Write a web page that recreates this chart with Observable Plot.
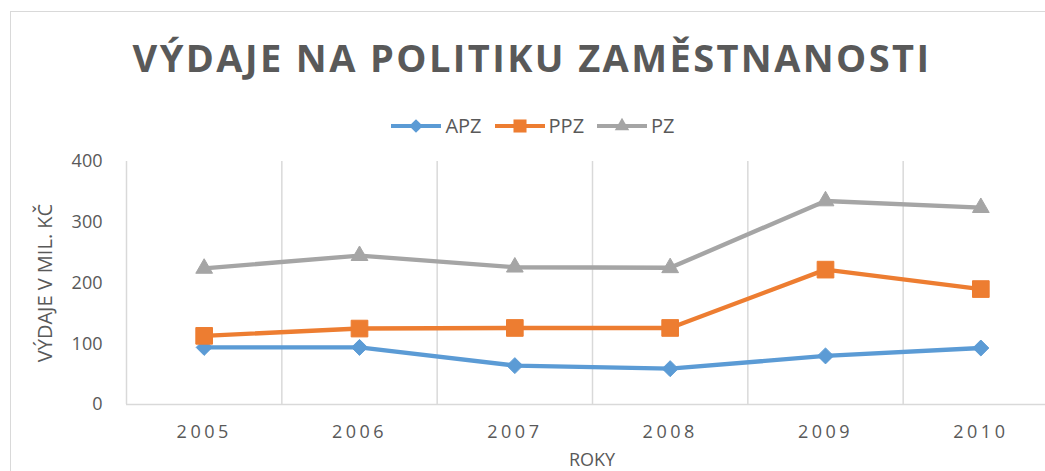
<!DOCTYPE html>
<html>
<head>
<meta charset="utf-8">
<script src="https://cdn.jsdelivr.net/npm/d3@7"></script>
<script src="https://cdn.jsdelivr.net/npm/@observablehq/plot@0.6"></script>
<style>
  html, body { margin: 0; padding: 0; background: #fff; overflow: hidden; }
  #wrap { position: relative; width: 1045px; height: 471px; overflow: hidden; font-family: "Open Sans", sans-serif; color: #595959; }
  #border { position: absolute; left: 10px; top: 11px; width: 1100px; height: 600px; border: 1px solid #d9d9d9; box-sizing: border-box; }
  #title { position: absolute; left: 0; top: 38px; width: 1064px; text-align: center; font-size: 38px; line-height: 1; font-weight: 700; letter-spacing: 2.4px; white-space: nowrap; }
  #legend { position: absolute; left: 0; top: 116px; width: 1066px; display: flex; justify-content: center; gap: 13px; font-size: 20px; line-height: 20px; }
  #legend .item { display: flex; align-items: center; gap: 4px; }
  #ylabel { position: absolute; left: 45px; top: 283px; transform: translate(-50%, -50%) rotate(-90deg); font-size: 20px; line-height: 1; white-space: nowrap; }
  #xlabel { position: absolute; left: 592px; top: 450px; transform: translateX(-50%); font-size: 18px; line-height: 18px; white-space: nowrap; }
  #chart { position: absolute; left: 0; top: 0; }
  #chart g[aria-label^="x-axis"] text { letter-spacing: 3.5px; }
</style>
</head>
<body>
<div id="wrap">
  <div id="border"></div>
  <div id="chart"></div>
  <div id="title"></div>
  <div id="legend"></div>
  <div id="ylabel"></div>
  <div id="xlabel"></div>
</div>
<script>
// ---- data ----
const titleText = "VÝDAJE NA POLITIKU ZAMĚSTNANOSTI";
const yLabelText = "VÝDAJE V MIL. KČ";
const xLabelText = "ROKY";
const years = [2005, 2006, 2007, 2008, 2009, 2010];
const seriesNames = ["APZ", "PPZ", "PZ"];
const apz = [94, 94, 64, 59, 80, 93];
const ppz = [113, 125, 126, 126, 222, 190];
const pz = [224, 245, 226, 225, 335, 324];
const yTicks = [0, 100, 200, 300, 400];
const colors = ["#5B9BD5", "#ED7D31", "#A5A5A5"];
const symbols = ["diamond2", "square", "triangle2"];
const symbolR = [7.2, 9.4, 8.0];

// ---- build rows ----
const valuesBySeries = [apz, ppz, pz];
const rows = [];
seriesNames.forEach((s, i) => years.forEach((yr, j) => rows.push({series: s, year: yr, value: valuesBySeries[i][j]})));
const gridX = years.map(y => y - 0.5);

document.getElementById("title").textContent = titleText;
document.getElementById("ylabel").textContent = yLabelText;
document.getElementById("xlabel").textContent = xLabelText;

// legend
const legend = document.getElementById("legend");
const symMap = {diamond2: d3.symbolDiamond2, square: d3.symbolSquare, triangle2: d3.symbolTriangle2};
const legendSizes = [120, 170, 150];
seriesNames.forEach((s, i) => {
  const item = document.createElement("div");
  item.className = "item";
  const sw = d3.create("svg").attr("width", 50).attr("height", 20);
  sw.append("line").attr("x1", 0).attr("x2", 50).attr("y1", 10).attr("y2", 10).attr("stroke", colors[i]).attr("stroke-width", 4);
  sw.append("path").attr("transform", "translate(25,10)").attr("d", d3.symbol(symMap[symbols[i]], legendSizes[i])()).attr("fill", colors[i]);
  item.appendChild(sw.node());
  const t = document.createElement("span");
  t.textContent = s;
  item.appendChild(t);
  legend.appendChild(item);
});

const dotMarks = seriesNames.map((s, i) =>
  Plot.dot(rows.filter(d => d.series === s), {x: "year", y: "value", symbol: () => symbols[i], fill: colors[i], stroke: colors[i], strokeWidth: 1, r: symbolR[i]})
);

const chart = Plot.plot({
  width: 1045,
  height: 471,
  marginTop: 161,
  marginBottom: 67,
  marginLeft: 126,
  marginRight: 0,
  style: {fontFamily: "Open Sans, sans-serif", fontSize: "18px", color: "#595959", background: "transparent", overflow: "visible"},
  x: {type: "linear", domain: [2004.5, 2010.5], range: [126, 1058], ticks: years, tickFormat: d => String(d), tickSize: 0, tickPadding: 21, label: null},
  y: {domain: [0, 400], ticks: yTicks, tickSize: 0, tickPadding: 24, label: null},
  symbol: {domain: symbols, range: symbols},
  marks: [
    Plot.ruleX(gridX, {stroke: "#d9d9d9", strokeWidth: 1.5}),
    Plot.ruleY([0], {stroke: "#d9d9d9", strokeWidth: 1.5}),
    Plot.line(rows, {x: "year", y: "value", z: "series", stroke: d => colors[seriesNames.indexOf(d.series)], strokeWidth: 4.4, strokeLinejoin: "round"}),
    ...dotMarks
  ]
});
document.getElementById("chart").appendChild(chart);
</script>
</body>
</html>
